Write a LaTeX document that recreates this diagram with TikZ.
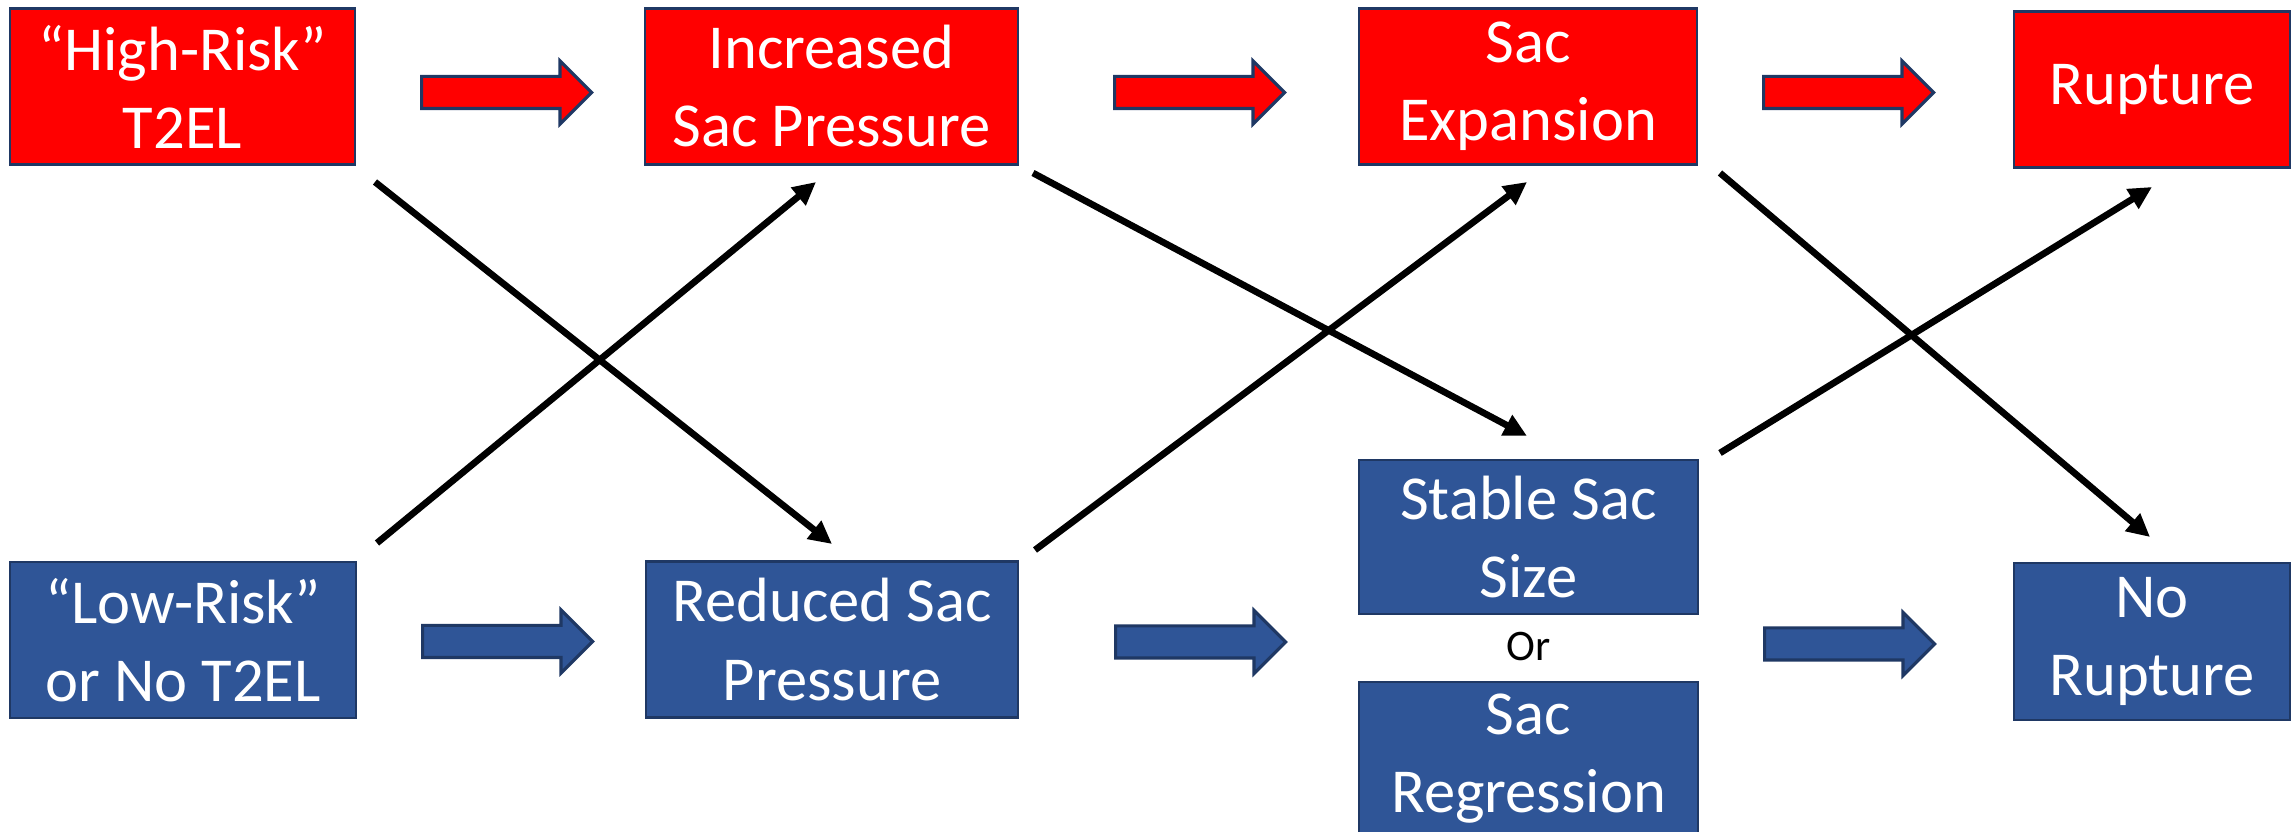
\documentclass[tikz,border=0pt]{standalone}
\usepackage{fontspec}
\setmainfont{Carlito}
\usetikzlibrary{arrows.meta,shapes.arrows}

\definecolor{hired}{RGB}{255,0,0}
\definecolor{loblue}{RGB}{47,85,151}
\definecolor{rim}{RGB}{31,56,100}

\tikzset{
	box/.style={rectangle, draw=rim, line width=0.7pt, text=white, align=center,
		inner sep=0pt, minimum height=1.56cm, font=\fontsize{17.8}{22.2}\selectfont},
	high/.style={box, fill=hired},
	low/.style={box, fill=loblue},
	bigarrow/.style={single arrow, draw=rim, line width=0.9pt, inner xsep=0pt, inner ysep=0.145cm,
		minimum height=1.70cm, minimum width=0pt, single arrow head extend=0.155cm,
		single arrow tip angle=90, anchor=tail},
}

\begin{document}
\begin{tikzpicture}[y=-1cm, >={Triangle[length=2.3mm,width=2.2mm]}]
	\useasboundingbox (0,0) rectangle (22.95,8.32);

	% top row: high risk
	\path
		(1.825,0.865) node[high, minimum width=3.45cm] (hr) {“High-Risk”\\T2EL}
		(8.315,0.865) node[high, minimum width=3.73cm] (ip) {Increased\\Sac Pressure}
		(15.28,0.865) node[high, minimum width=3.38cm] (se) {Sac\\Expansion}
		(21.52,0.895) node[high, minimum width=2.76cm] (ru) {Rupture}
	;
	% bottom row: low risk
	\path
		(1.83,6.40) node[low, minimum width=3.46cm] (lr) {“Low-Risk”\\or No T2EL}
		(8.32,6.395) node[low, minimum width=3.72cm] (rd) {Reduced Sac\\Pressure}
		(15.285,5.37) node[low, minimum width=3.39cm, minimum height=1.54cm] (ss) {Stable Sac\\Size}
		(15.285,6.47) node[font=\fontsize{12.4}{15}\selectfont] (or) {Or}
		(15.285,7.59) node[low, minimum width=3.39cm, minimum height=1.54cm] (sr) {Sac\\Regression}
		(21.52,6.415) node[low, minimum width=2.76cm, minimum height=1.57cm] (nr) {No\\Rupture}
	;

	% block arrows
	\path
		(4.20,0.925) node[bigarrow, fill=hired] (ra1) {}
		(11.13,0.925) node[bigarrow, fill=hired] (ra2) {}
		(17.62,0.925) node[bigarrow, fill=hired] (ra3) {}
		(4.21,6.415) node[bigarrow, fill=loblue] (ba1) {}
		(11.14,6.42) node[bigarrow, fill=loblue] (ba2) {}
		(17.63,6.44) node[bigarrow, fill=loblue] (ba3) {}
	;

	% crossing arrows
	\path
		(3.75,1.82) coordinate (p1)   (8.32,5.44) coordinate (q1)
		(3.77,5.43) coordinate (p2)   (8.16,1.82) coordinate (q2)
		(10.33,1.73) coordinate (p3)  (15.27,4.36) coordinate (q3)
		(10.35,5.50) coordinate (p4)  (15.27,1.82) coordinate (q4)
		(17.20,1.73) coordinate (p5)  (21.50,5.37) coordinate (q5)
		(17.20,4.53) coordinate (p6)  (21.52,1.87) coordinate (q6)
	;
	\foreach \i in {1,...,6}
		\draw[->, line width=1.9pt] (p\i) -- (q\i);
\end{tikzpicture}
\end{document}
